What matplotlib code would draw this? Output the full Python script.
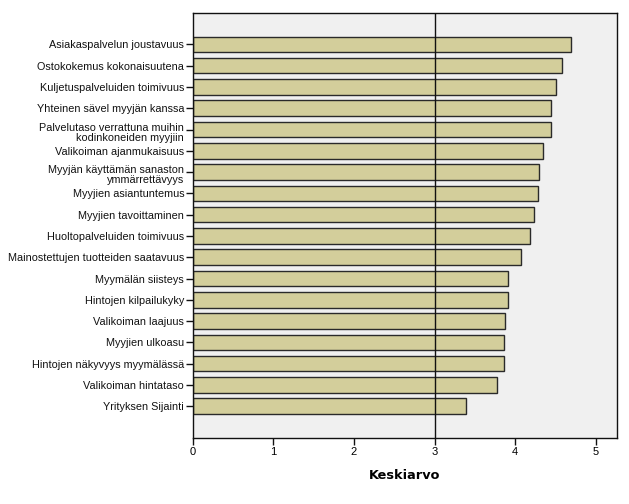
import matplotlib
matplotlib.use("Agg")
import matplotlib.pyplot as plt
import matplotlib.transforms as mtransforms
import numpy as np

categories = [
    "Asiakaspalvelun joustavuus",
    "Ostokokemus kokonaisuutena",
    "Kuljetuspalveluiden toimivuus",
    "Yhteinen sävel myyjän kanssa",
    "Palvelutaso verrattuna muihin\nkodinkoneiden myyjiin",
    "Valikoiman ajanmukaisuus",
    "Myyjän käyttämän sanaston\nymmärrettävyys",
    "Myyjien asiantuntemus",
    "Myyjien tavoittaminen",
    "Huoltopalveluiden toimivuus",
    "Mainostettujen tuotteiden saatavuus",
    "Myymälän siisteys",
    "Hintojen kilpailukyky",
    "Valikoiman laajuus",
    "Myyjien ulkoasu",
    "Hintojen näkyvyys myymälässä",
    "Valikoiman hintataso",
    "Yrityksen Sijainti",
]
values = [4.69, 4.58, 4.51, 4.44, 4.44, 4.35, 4.30, 4.28, 4.23, 4.18,
          4.07, 3.91, 3.91, 3.88, 3.86, 3.86, 3.77, 3.39]
xticks = [0, 1, 2, 3, 4, 5]
ref_line = 3

plt.rcParams['font.family'] = ['Liberation Sans', 'DejaVu Sans']

fig = plt.figure(figsize=(6.29, 5.04), dpi=100)
ax = fig.add_axes([192.7 / 629, 1 - 437.7 / 504, (616.7 - 192.7) / 629, (437.7 - 12.5) / 504])
ax.set_facecolor('#F0F0F0')

y = np.arange(len(categories))
ax.barh(y, values, height=0.73, color='#D3CE9B', edgecolor='#2a2a2a', linewidth=1.0, zorder=2)
ax.axvline(ref_line, color='#111111', linewidth=1.0, zorder=3)

ax.set_xlim(0, 5.26)
ax.set_ylim(len(categories) - 1 + 1.48, -1.5)
ax.set_yticks(y)
ax.set_yticklabels([])

base = mtransforms.blended_transform_factory(ax.transAxes, ax.transData)
for yi, cat in zip(y, categories):
    multi = '\n' in cat
    dy = -3 if multi else 0
    tr = base + mtransforms.ScaledTranslation(-8.5 / 100, dy / 100, fig.dpi_scale_trans)
    ax.text(0, yi, cat, transform=tr, ha='right',
            va='center' if multi else 'center_baseline', fontsize=7.8,
            linespacing=1.0, multialignment='right', color='#111111')

ax.set_xticks(xticks)
ax.set_xticklabels([str(t) for t in xticks], fontsize=8)
ax.tick_params(axis='both', direction='out', length=5, width=1, color='#111111', pad=2)
for s in ax.spines.values():
    s.set_color('#111111')
    s.set_linewidth(1.0)

ax.set_xlabel("Keskiarvo", fontsize=9.3, fontweight='bold', family=['DejaVu Sans'], labelpad=8)

fig.savefig("out.png", dpi=100)
